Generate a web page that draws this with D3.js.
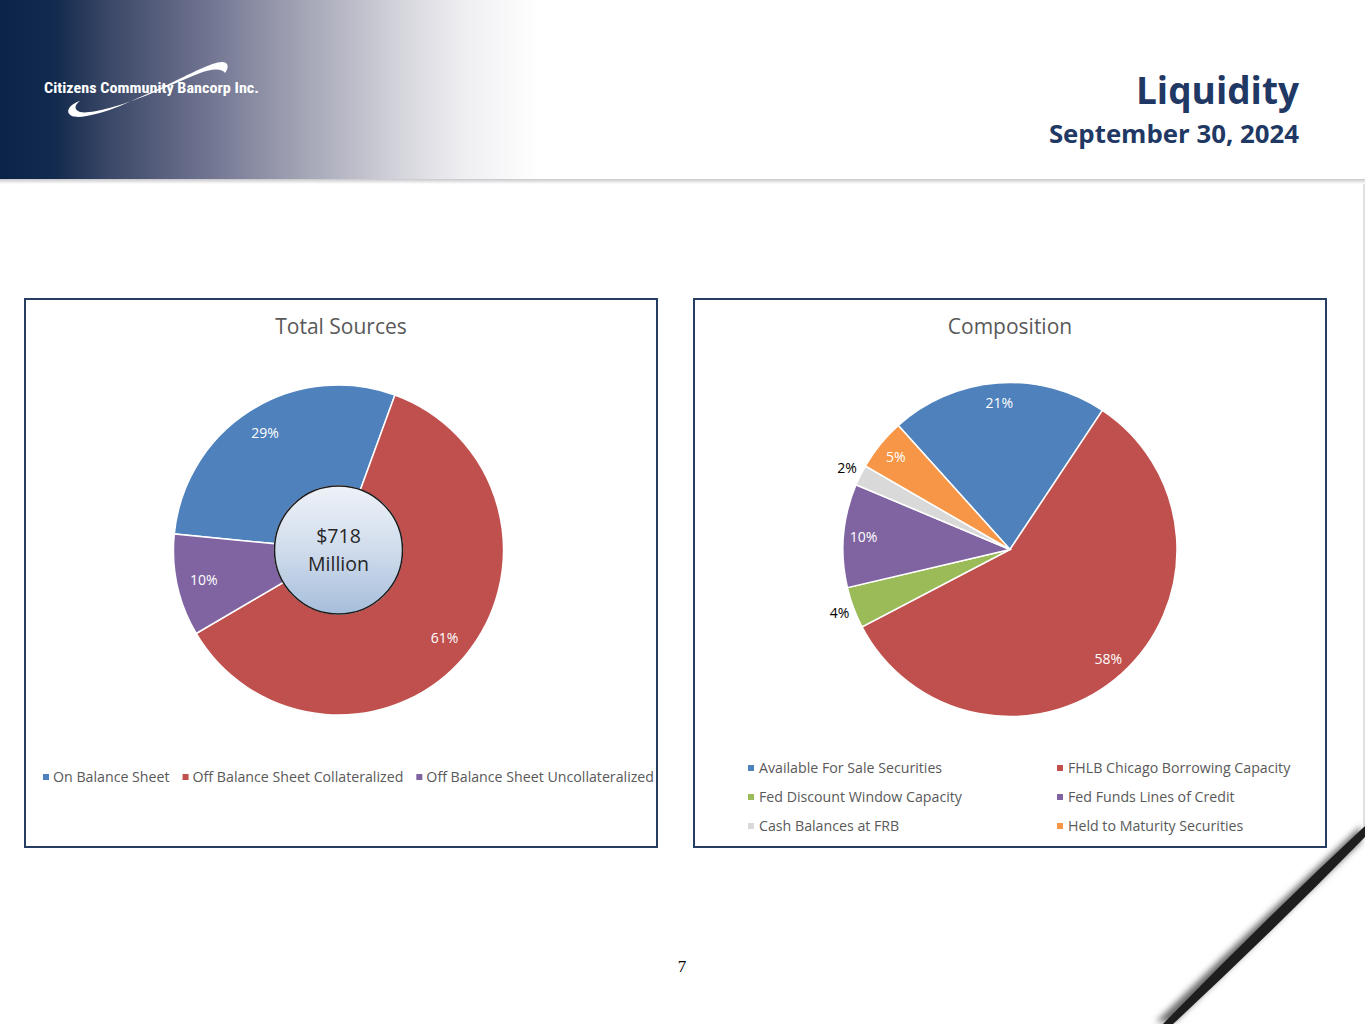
<!DOCTYPE html>
<html>
<head>
<meta charset="utf-8">
<title>Liquidity</title>
<script src="https://cdn.jsdelivr.net/npm/d3@7"></script>
<style>
  body { margin: 0; background: #fff; }
  svg { display: block; }
</style>
</head>
<body>
<div class="page"></div>
<script>
// Data
var sourceNames = ["On Balance Sheet", "Off Balance Sheet Collateralized", "Off Balance Sheet Uncollateralized"];
var sourceValues = [29, 61, 10];
var totalLines = ["$718", "Million"];

var compNames = ["Available For Sale Securities", "FHLB Chicago Borrowing Capacity",
  "Fed Discount Window Capacity", "Fed Funds Lines of Credit",
  "Cash Balances at FRB", "Held to Maturity Securities"];
var compValues = [21, 58, 4, 10, 2, 5];

var sourceColors = ["#4f81bd", "#c0504d", "#8064a2"];
var compColors = ["#4f81bd", "#c0504d", "#9bbb59", "#8064a2", "#d9d9d9", "#f79646"];

var svgWidth = 1365;
var svgHeight = 1024;
var font = "'Open Sans', 'Noto Sans', sans-serif";
var deg = Math.PI / 180;

var svg = d3.select(".page")
  .append("svg")
  .attr("width", svgWidth)
  .attr("height", svgHeight);

var defs = svg.append("defs");

// header gradient
var hg = defs.append("linearGradient").attr("id", "hdr")
  .attr("x1", 0).attr("x2", 1).attr("y1", 0).attr("y2", 0);
[[0, "#0b2347"], [0.1, "#122a4d"], [0.2, "#3a4766"], [0.38, "#6f7390"],
 [0.56, "#a3a4b5"], [0.74, "#d4d4dc"], [0.86, "#efeff2"], [1, "#ffffff"]]
  .forEach(function(s) { hg.append("stop").attr("offset", s[0]).attr("stop-color", s[1]); });

var sg = defs.append("linearGradient").attr("id", "hdrShadow")
  .attr("x1", 0).attr("x2", 0).attr("y1", 0).attr("y2", 1);
sg.append("stop").attr("offset", 0).attr("stop-color", "#c8c8cc");
sg.append("stop").attr("offset", 1).attr("stop-color", "#ffffff");

var cg = defs.append("linearGradient").attr("id", "centerFill")
  .attr("x1", 0).attr("x2", 0).attr("y1", 0).attr("y2", 1);
cg.append("stop").attr("offset", 0).attr("stop-color", "#eef2f8");
cg.append("stop").attr("offset", 0.5).attr("stop-color", "#d0dcec");
cg.append("stop").attr("offset", 1).attr("stop-color", "#a6bedb");

defs.append("filter").attr("id", "blur")
  .attr("x", "-20%").attr("y", "-20%").attr("width", "140%").attr("height", "140%")
  .append("feGaussianBlur").attr("stdDeviation", 3);

// Header band
svg.append("rect")
  .attr("x", 0).attr("y", 0)
  .attr("width", 540).attr("height", 179)
  .attr("fill", "url(#hdr)");
svg.append("rect")
  .attr("x", 0).attr("y", 179)
  .attr("width", svgWidth).attr("height", 5)
  .attr("fill", "url(#hdrShadow)");

// logo swoosh + name
svg.append("path")
  .attr("d", "M80 101 C70 104 64 112 72 116 C80 119 100 114 120 106 L165 86 " +
    "C190 74 212 62 222 62 C229 62 229 68 225 73 C222 68 212 68 195 75 L150 94 " +
    "C115 108 90 114 80 112 C74 110 74 105 80 101 Z")
  .attr("fill", "#ffffff");
svg.append("text")
  .attr("x", 44).attr("y", 93)
  .attr("textLength", 215)
  .attr("lengthAdjust", "spacingAndGlyphs")
  .attr("font-family", "'Liberation Sans Narrow', 'Roboto Condensed', Roboto, sans-serif")
  .attr("font-weight", "bold")
  .attr("font-size", 15)
  .attr("fill", "#ffffff")
  .text("Citizens Community Bancorp Inc.");

// Title
svg.append("text")
  .attr("x", 1299).attr("y", 104)
  .attr("text-anchor", "end")
  .attr("font-family", font)
  .attr("font-weight", "bold")
  .attr("font-size", 37)
  .attr("fill", "#1f3864")
  .text("Liquidity");
svg.append("text")
  .attr("x", 1299).attr("y", 143)
  .attr("text-anchor", "end")
  .attr("font-family", font)
  .attr("font-weight", "bold")
  .attr("font-size", 25.8)
  .attr("fill", "#1f3864")
  .text("September 30, 2024");

// Chart frames
function frame(x, title) {
  var g = svg.append("g").attr("transform", `translate(${x}, 299)`);
  g.append("rect")
    .attr("width", 632).attr("height", 548)
    .attr("fill", "#ffffff")
    .attr("stroke", "#273e63")
    .attr("stroke-width", 2);
  g.append("text")
    .attr("x", 316).attr("y", 35)
    .attr("text-anchor", "middle")
    .attr("font-family", font)
    .attr("font-size", 21)
    .attr("fill", "#595959")
    .text(title);
  return g;
}

var left = frame(25, "Total Sources");
var right = frame(694, "Composition");

// Total Sources donut
var r1 = 165, r1in = 64;
var cx1 = 313.5, cy1 = 251;
var a1 = 275.6 * deg;

var pie1 = d3.pie().sort(null).startAngle(a1).endAngle(a1 + 2 * Math.PI);
var arcs1 = pie1(sourceValues);
var arc1 = d3.arc().innerRadius(r1in).outerRadius(r1);
var lab1 = d3.arc().innerRadius(138).outerRadius(138);

var donut = left.append("g").attr("transform", `translate(${cx1}, ${cy1})`);
donut.selectAll("path")
  .data(arcs1)
  .enter()
  .append("path")
  .attr("d", arc1)
  .attr("fill", (d, i) => sourceColors[i])
  .attr("stroke", "#ffffff")
  .attr("stroke-width", 1.5);

donut.selectAll(".lbl")
  .data(arcs1)
  .enter()
  .append("text")
  .attr("class", "lbl")
  .attr("transform", d => `translate(${lab1.centroid(d)})`)
  .attr("text-anchor", "middle")
  .attr("dy", "0.35em")
  .attr("font-family", font)
  .attr("font-size", 14)
  .attr("fill", "#ffffff")
  .text(d => d.data + "%");

donut.append("circle")
  .attr("r", r1in)
  .attr("fill", "url(#centerFill)")
  .attr("stroke", "#1a1a1a")
  .attr("stroke-width", 1.5);
donut.selectAll(".ctr")
  .data(totalLines)
  .enter()
  .append("text")
  .attr("class", "ctr")
  .attr("y", (d, i) => -7 + i * 28)
  .attr("text-anchor", "middle")
  .attr("font-family", font)
  .attr("font-size", 19.5)
  .attr("fill", "#262626")
  .text(d => d);

// legend (sequential layout)
var leg1 = left.append("g").attr("transform", "translate(18, 478)");
var lx = 0;
sourceNames.forEach(function(name, i) {
  var item = leg1.append("g").attr("transform", `translate(${lx}, 0)`);
  item.append("rect")
    .attr("x", 0).attr("y", -3)
    .attr("width", 6).attr("height", 6)
    .attr("fill", sourceColors[i]);
  var t = item.append("text")
    .attr("x", 10).attr("y", 0)
    .attr("dy", "0.35em")
    .attr("font-family", font)
    .attr("font-size", 14.2)
    .attr("fill", "#595959")
    .text(name);
  lx += 10 + t.node().getComputedTextLength() + 13;
});

// Composition pie
var r2 = 167;
var cx2 = 316, cy2 = 250.5;
var a2 = -42 * deg;

var pie2 = d3.pie().sort(null).startAngle(a2).endAngle(a2 + 2 * Math.PI);
var arcs2 = pie2(compValues);
var arc2 = d3.arc().innerRadius(0).outerRadius(r2);
var labIn = d3.arc().innerRadius(147).outerRadius(147);
var labOut = d3.arc().innerRadius(182).outerRadius(182);

var pie = right.append("g").attr("transform", `translate(${cx2}, ${cy2})`);
pie.selectAll("path")
  .data(arcs2)
  .enter()
  .append("path")
  .attr("d", arc2)
  .attr("fill", (d, i) => compColors[i])
  .attr("stroke", "#ffffff")
  .attr("stroke-width", 1.5);

pie.selectAll(".lbl")
  .data(arcs2)
  .enter()
  .append("text")
  .attr("class", "lbl")
  .attr("transform", d => `translate(${(d.data < 5 ? labOut : labIn).centroid(d)})`)
  .attr("text-anchor", "middle")
  .attr("dy", "0.35em")
  .attr("font-family", font)
  .attr("font-size", 14)
  .attr("fill", d => d.data < 5 ? "#000000" : "#ffffff")
  .text(d => d.data + "%");

var leg2 = right.selectAll(".leg")
  .data(compNames)
  .enter()
  .append("g")
  .attr("class", "leg")
  .attr("transform", (d, i) => `translate(${54 + (i % 2) * 309}, ${469 + Math.floor(i / 2) * 29})`);
leg2.append("rect")
  .attr("x", 0).attr("y", -3)
  .attr("width", 6).attr("height", 6)
  .attr("fill", (d, i) => compColors[i]);
leg2.append("text")
  .attr("x", 11).attr("dy", "0.35em")
  .attr("font-family", font)
  .attr("font-size", 14.2)
  .attr("fill", "#595959")
  .text(d => d);

// page number
svg.append("text")
  .attr("x", 682).attr("y", 972)
  .attr("text-anchor", "middle")
  .attr("font-family", "'Liberation Serif', 'Times New Roman', serif")
  .attr("font-size", 17)
  .attr("fill", "#000000")
  .text("7");

// page edge + curl shadow
svg.append("line")
  .attr("x1", 1364).attr("y1", 184)
  .attr("x2", 1364).attr("y2", 826)
  .attr("stroke", "#d6d6d6")
  .attr("stroke-width", 1.5);
svg.append("path")
  .attr("d", "M1365 828 Q1262 924 1160 1024 L1178 1024 Q1274 930 1365 844 Z")
  .attr("fill", "#6a6a6a")
  .attr("transform", "translate(-4, -2)")
  .attr("filter", "url(#blur)");
svg.append("path")
  .attr("d", "M1365 826 Q1262 922 1163 1024 L1173 1024 Q1272 932 1365 837 Z")
  .attr("fill", "#1e1e1e");
</script>
</body>
</html>
